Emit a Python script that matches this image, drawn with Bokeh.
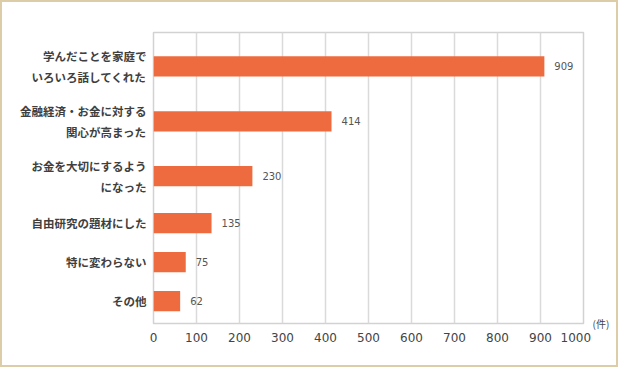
from bokeh.plotting import figure
from bokeh.models import Range1d, FixedTicker, CustomJSTickFormatter, LinearAxis, ColumnDataSource
from bokeh.core.properties import value
from bokeh.embed import file_html
from bokeh.resources import INLINE

# ---- data ----
categories = [
    "学んだことを家庭で\nいろいろ話してくれた",
    "金融経済・お金に対する\n関心が高まった",
    "お金を大切にするよう\nになった",
    "自由研究の題材にした",
    "特に変わらない",
    "その他",
]
counts = [909, 414, 230, 135, 75, 62]
x_ticks = [0, 100, 200, 300, 400, 500, 600, 700, 800, 900, 1000]
unit_label = "(件)"

# ---- layout: row heights depend on number of label lines ----
ROW_H = {1: 1.0, 2: 1.41}
row_heights = [ROW_H[c.count("\n") + 1] for c in categories]
centers = []
acc = 0.0
for h in row_heights:
    centers.append(acc + h / 2)
    acc += h
total = acc
y_bottom = total + 0.077

p = figure(
    width=618, height=367,
    output_backend="svg", toolbar_location=None,
    x_range=Range1d(0, 1000),
    y_range=Range1d(y_bottom, -0.167),
    min_border_left=151, min_border_right=37,
    min_border_top=30, min_border_bottom=46,
)
p.styles = {"border": "2px solid #DCCDA8"}
p.background_fill_color = "white"
p.border_fill_color = "white"
p.outline_line_color = "#D2D2D2"
p.outline_line_width = 1.5

src = ColumnDataSource(dict(y=centers, v=counts, t=[str(c) for c in counts]))
p.hbar(y="y", right="v", left=0, height=0.52, source=src,
       fill_color="#EE6B3F", line_color=None)
p.text(x="v", y="y", text="t", source=src, x_offset=10,
       text_baseline="middle", text_align="left",
       text_font=value("DejaVu Sans"), text_font_size="10px", text_color="#555555")

# x axis (numbers)
xa = p.xaxis[0]
xa.ticker = FixedTicker(ticks=x_ticks)
xa.major_label_overrides = {x_ticks[-1]: "1000" + "\u00a0" * 4}
xa.axis_line_color = None
xa.major_tick_line_color = None
xa.minor_tick_line_color = None
xa.major_tick_out = 0
xa.major_label_standoff = 7
xa.major_label_text_font = "DejaVu Sans"
xa.major_label_text_font_size = "12px"
xa.major_label_text_color = "#444444"

# unit "(件)" placed right of the frame, next to the 1000 tick label
ua = LinearAxis(ticker=FixedTicker(ticks=[y_bottom]),
                formatter=CustomJSTickFormatter(args=dict(lbl=unit_label),
                                                code="return lbl;"))
ua.axis_line_color = None
ua.major_tick_line_color = None
ua.minor_tick_line_color = None
ua.major_tick_out = 0
ua.major_label_standoff = 9
ua.major_label_text_align = "left"
ua.major_label_text_baseline = "top"
ua.major_label_text_font = "Noto Sans CJK JP"
ua.major_label_text_font_size = "10px"
ua.major_label_text_color = "#444444"
p.add_layout(ua, "right")

p.xgrid.ticker = FixedTicker(ticks=x_ticks)

# y axis
ya = p.yaxis[0]
ya.ticker = FixedTicker(ticks=centers)
ya.formatter = CustomJSTickFormatter(args=dict(tpos=centers, labels=categories), code="""
    let best = 0, bd = 1e9;
    for (let i = 0; i < tpos.length; i++) {
        const d = Math.abs(tpos[i] - tick);
        if (d < bd) { bd = d; best = i; }
    }
    return labels[best];
""")
ya.axis_line_color = None
ya.major_tick_line_color = None
ya.minor_tick_line_color = None
ya.major_tick_out = 0
ya.major_label_standoff = 7
ya.major_label_text_font = "Noto Sans CJK JP"
ya.major_label_text_font_style = "bold"
ya.major_label_text_font_size = "11.5px"
ya.major_label_text_color = "#3F3F3F"
ya.major_label_text_line_height = 1.3

p.xgrid.grid_line_color = "#DADADA"
p.xgrid.grid_line_width = 1.5
p.ygrid.grid_line_color = None

open("out.html", "w").write(file_html(p, INLINE))
